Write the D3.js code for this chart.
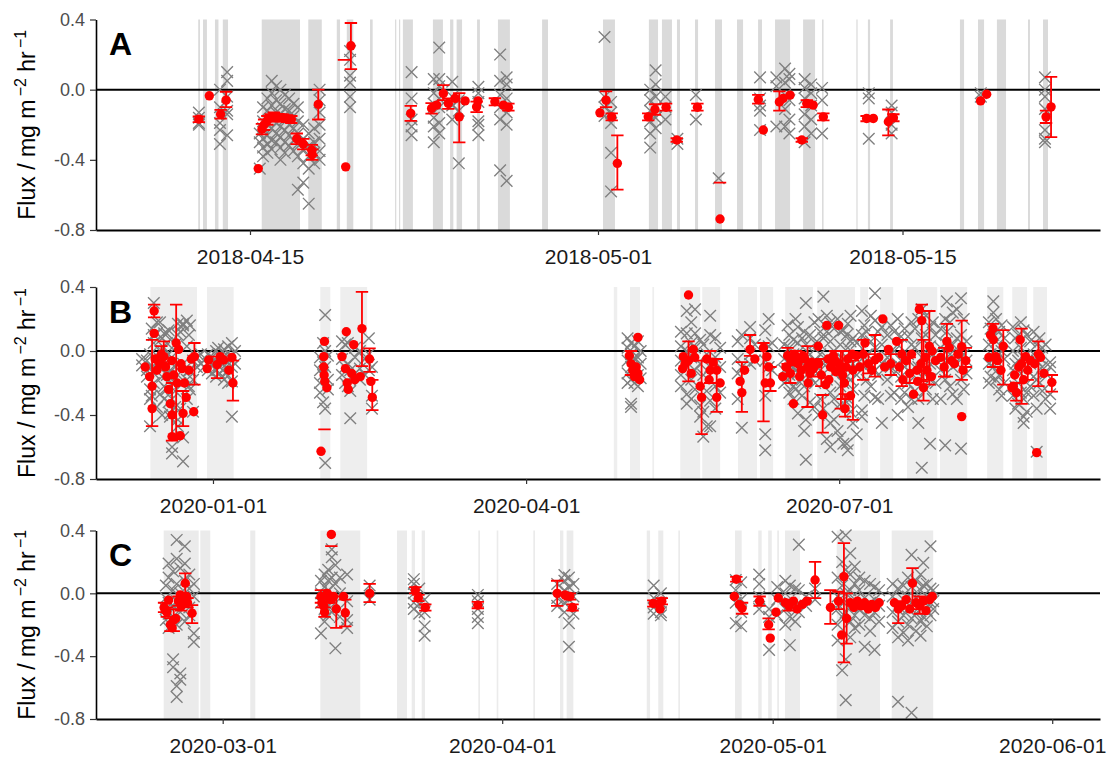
<!DOCTYPE html>
<html><head><meta charset="utf-8">
<script src="https://cdn.jsdelivr.net/npm/d3@7"></script>
<style>body{margin:0;background:#fff}svg{display:block}text{font-family:"Liberation Sans",Arial,sans-serif}</style>
</head><body><svg id="c" width="1113" height="760"></svg>
<script>
// ---------- Panel A (days since 2018-04-01) ----------
const A_ticks = ["2018-04-15","2018-05-01","2018-05-15"];
const A_bands = [[11.62,11.70],[11.84,12.02],[12.39,12.55],[12.75,12.99],[14.54,16.30],[16.68,17.30],[17.99,18.14],[18.45,18.75],[19.52,19.64],[20.67,20.72],[20.85,20.90],[21.03,21.49],[22.41,22.87],[23.20,23.35],[23.50,23.75],[24.44,24.57],[25.40,25.95],[27.43,27.70],[30.23,30.78],[32.34,32.76],[32.94,33.40],[33.63,33.77],[34.46,34.60],[35.38,35.70],[36.39,36.67],[37.36,37.54],[38.14,38.83],[39.43,39.98],[40.30,40.37],[41.88,41.93],[42.41,42.51],[43.43,43.56],[46.64,46.83],[47.47,47.75],[48.34,48.76],[49.77,49.86],[50.46,50.69]];
const A_cross = [[11.65,[-0.13,-0.19,-0.16,-0.20]],[12.62,[0.0,-0.10,-0.19,-0.23,-0.31]],[12.95,[0.10,0.05,-0.04,-0.12,-0.14,-0.26]],[14.45,[-0.45,-0.25,-0.30]],[14.6,[-0.10,-0.18,-0.22,-0.28,-0.33,-0.38]],[14.8,[-0.05,-0.12,-0.20,-0.26,-0.31,-0.36]],[15.0,[0.05,-0.02,-0.09,-0.15,-0.22,-0.29,-0.34]],[15.2,[0.02,-0.06,-0.13,-0.19,-0.25,-0.30]],[15.4,[0.0,-0.08,-0.14,-0.21,-0.27,-0.33,-0.40]],[15.6,[-0.03,-0.11,-0.17,-0.23,-0.30,-0.36]],[15.8,[-0.05,-0.12,-0.20,-0.26,-0.32]],[16.0,[-0.08,-0.15,-0.22,-0.29,-0.35]],[16.2,[-0.10,-0.18,-0.25,-0.31,-0.38,-0.57]],[16.45,[-0.20,-0.28,-0.34,-0.42,-0.53]],[16.7,[-0.25,-0.32,-0.38,-0.45,-0.65]],[16.95,[-0.22,-0.30,-0.36,-0.42]],[17.2,[0.0,-0.06,-0.13,-0.20,-0.28,-0.35,-0.40]],[18.6,[0.22,0.17,0.08,0.04,-0.04,-0.10]],[21.43,[0.10,-0.05,-0.17,-0.21,-0.26]],[22.45,[0.06,-0.02,-0.08,-0.16,-0.21,-0.30]],[22.7,[0.24,0.06,0.02,-0.05,-0.10,-0.19,-0.25]],[23.3,[0.045,-0.04,-0.09,-0.17]],[23.6,[-0.06,-0.12,-0.42]],[24.5,[0.016,-0.02,-0.07,-0.18,-0.20,-0.26]],[25.5,[0.20,0.05,-0.03,-0.10,-0.17,-0.46]],[25.8,[0.07,0.03,-0.05,-0.13,-0.20,-0.52]],[30.3,[0.30,-0.04,-0.10,-0.15]],[30.6,[-0.07,-0.13,-0.19,-0.36,-0.58]],[32.4,[0.0,-0.06,-0.12,-0.18,-0.25,-0.33]],[32.65,[0.11,0.03,-0.04,-0.10,-0.16,-0.22]],[33.1,[-0.04,-0.10,-0.17]],[33.65,[-0.28,-0.31]],[34.5,[-0.03,-0.17]],[35.55,[-0.505]],[37.45,[0.07,-0.05,-0.09,-0.12,-0.23]],[38.2,[0.07,0.02,-0.21]],[38.6,[0.12,0.04,-0.03,-0.11,-0.21]],[38.8,[0.09,0.06,-0.06,-0.17,-0.25]],[39.5,[0.06,0.01,-0.05,-0.14,-0.21,-0.30]],[39.8,[0.03,-0.02,-0.09,-0.17,-0.25]],[40.3,[0.01,-0.06,-0.25]],[42.45,[-0.02,-0.05,-0.28]],[43.5,[-0.09,-0.13,-0.20,-0.25]],[47.6,[-0.02,-0.04]],[50.55,[0.07,0.0,-0.04,-0.11,-0.23,-0.28,-0.30]]];
const A_red = [[11.65,-0.168,-0.185,-0.152],[12.13,-0.035,null,null],[12.65,-0.14,-0.165,-0.115],[12.90,-0.06,-0.10,-0.012],[14.38,-0.45,null,null],[14.55,-0.225,-0.255,-0.195],[14.65,-0.20,-0.23,-0.17],[14.8,-0.175,-0.20,-0.15],[14.95,-0.16,-0.18,-0.14],[15.1,-0.155,-0.18,-0.13],[15.3,-0.16,-0.18,-0.14],[15.5,-0.16,-0.18,-0.14],[15.7,-0.165,-0.185,-0.145],[15.9,-0.17,-0.19,-0.15],[16.15,-0.28,-0.31,-0.25],[16.45,-0.31,-0.34,-0.28],[16.84,-0.345,-0.375,-0.315],[16.86,-0.37,-0.40,-0.34],[17.14,-0.084,-0.17,0.0],[18.40,-0.44,null,null],[18.64,0.25,0.117,0.38],[18.32,null,0.17,0.17],[21.39,-0.135,-0.178,-0.092],[22.35,-0.107,-0.137,-0.077],[22.58,-0.088,null,null],[22.89,-0.022,-0.06,0.026],[23.12,-0.079,-0.11,-0.05],[23.43,-0.05,null,null],[23.62,-0.155,-0.30,-0.02],[23.89,-0.064,null,null],[24.42,-0.098,-0.128,-0.068],[24.48,-0.064,null,null],[25.26,-0.069,-0.09,-0.049],[25.65,-0.088,null,null],[25.88,-0.10,-0.12,-0.08],[30.09,-0.132,null,null],[30.37,-0.06,-0.10,-0.01],[30.63,-0.155,-0.175,-0.135],[30.89,-0.42,-0.57,-0.26],[32.31,-0.155,-0.175,-0.135],[32.62,-0.113,-0.143,-0.083],[33.13,-0.10,-0.12,-0.08],[33.62,-0.287,-0.297,-0.277],[34.57,-0.10,-0.12,-0.08],[35.61,-0.737,-0.53,-0.53],[37.37,-0.056,-0.08,-0.03],[37.60,-0.23,null,null],[38.34,-0.07,-0.12,-0.01],[38.51,-0.05,null,null],[38.83,-0.031,null,null],[39.37,-0.287,-0.297,-0.277],[39.60,-0.079,-0.10,-0.06],[39.89,-0.088,null,null],[40.36,-0.155,-0.175,-0.135],[42.35,-0.164,-0.18,-0.15],[42.66,-0.164,null,null],[43.35,-0.183,-0.26,-0.113],[43.58,-0.16,-0.18,-0.14],[47.59,-0.064,null,null],[47.87,-0.026,null,null],[50.60,-0.155,-0.19,-0.12],[50.83,-0.098,-0.27,0.073]];

// ---------- Panel B (days since 2020-01-01) ----------
const B_ticks = ["2020-01-01","2020-04-01","2020-07-01"];
const B_bands = [[-18.2,-4.65],[-1.74,6.0],[31.2,34.1],[37.0,44.8],[116.5,117.5],[121.2,124.1],[127.7,128.2],[135.8,141.6],[142.2,147.4],[152.6,158.1],[159.0,162.8],[166.3,174.4],[175.6,186.6],[188.1,190.4],[193.9,197.7],[201.7,210.5],[211.3,219.2],[225.0,229.7],[232.3,236.6],[238.4,242.4]];
const B_cross = [[-20.6,[-0.09,-0.05]],[-19.2,[-0.12,-0.16,-0.06]],[-18.3,[-0.24,-0.47,-0.02,-0.30]],[-17.8,[0.14,-0.10,-0.28]],[-17.2,[0.30,0.10,0.05,-0.14,-0.20]],[-16.3,[0.18,0.11,-0.03,-0.08,-0.35]],[-15.4,[0.18,0.00,-0.10,-0.27]],[-14.8,[0.08,-0.16,-0.40]],[-14.2,[0.11,0.02,-0.06,-0.22,-0.30]],[-13.4,[0.11,0.05,-0.15,-0.24]],[-12.9,[0.13,-0.02,-0.32]],[-12.5,[-0.39,-0.41,-0.05,-0.12]],[-11.9,[-0.60,-0.64,-0.30,-0.20]],[-11.0,[0.04,-0.10,-0.25,-0.35]],[-10.2,[0.17,0.10,-0.43,-0.47,-0.15]],[-9.5,[0.12,-0.20,-0.36]],[-8.7,[0.17,0.16,-0.69,-0.54,-0.08]],[-7.6,[0.19,0.03,-0.18,-0.30]],[-7.0,[0.10,-0.12,-0.22]],[-6.7,[0.16,-0.24,-0.12]],[-5.8,[-0.18,-0.06,-0.38]],[-4.7,[-0.10,-0.04]],[-3.5,[-0.02,-0.08]],[-2.6,[-0.06,-0.10]],[-1.5,[-0.02,-0.12]],[-0.3,[-0.04,-0.08,-0.14]],[0.9,[0.00,-0.06,-0.12,-0.16]],[1.5,[0.02,-0.09]],[2.0,[-0.02,-0.10,-0.14]],[3.2,[0.01,-0.05,-0.18]],[3.8,[-0.02,-0.10,-0.14]],[4.4,[0.03,-0.07,-0.12,-0.20]],[5.5,[0.05,-0.03,-0.19,-0.41,-0.10]],[6.4,[0.00,-0.08]],
[31.1,[-0.04,-0.12,-0.20,-0.26]],[32.0,[0.05,-0.07,-0.15,-0.32]],[32.6,[0.225,0.00,-0.10,-0.36,-0.70]],[33.4,[-0.03,-0.18,-0.24]],[37.5,[0.06,-0.05,-0.15]],[38.4,[0.04,-0.10,-0.20]],[39.2,[0.05,-0.08,-0.22]],[39.9,[-0.42,-0.25,-0.12]],[41.3,[0.02,-0.04,-0.14]],[42.7,[0.00,-0.11,-0.18]],[44.2,[-0.05,-0.15]],[45.3,[0.08,-0.02,-0.12]],[46.2,[-0.36,-0.28,-0.10]],
[120.5,[0.08,0.02,-0.06,-0.14,-0.20]],[121.5,[0.05,-0.02,-0.10,-0.18,-0.33,-0.35]],[122.5,[0.03,-0.05,-0.12,-0.20]],[123.5,[0.06,-0.04,-0.15,-0.22]],[124.3,[0.00,-0.08,-0.17]],
[136.0,[0.12,0.03,-0.06,-0.15,-0.22]],[137.7,[0.25,0.11,0.00,-0.10,-0.27,-0.33]],[139.0,[0.18,0.05,-0.04,-0.18,-0.30]],[140.1,[0.26,0.11,0.02,-0.12,-0.24]],[141.6,[0.07,-0.08,-0.34,-0.41]],[142.5,[0.04,-0.15,-0.535,-0.38]],[143.5,[-0.02,-0.25,-0.47]],[144.5,[0.22,0.10,-0.10,-0.31,-0.47]],[146.0,[0.08,-0.04,-0.22,-0.36]],[147.4,[0.02,-0.10,-0.26]],
[152.5,[0.06,-0.05,-0.14,-0.30]],[153.7,[0.10,-0.10,-0.48]],[156.1,[0.15,0.08,-0.02,-0.08]],[157.5,[0.04,-0.06]],[160.5,[0.13,-0.06,-0.52,-0.62,-0.28]],[161.5,[0.20,0.03,-0.10]],[162.5,[0.05,-0.12]],
[166.0,[0.04,-0.05,-0.12,-0.20]],[167.0,[0.16,-0.18]],[167.5,[0.10,0.02,-0.08,-0.15,-0.26]],[168.7,[0.07,-0.02,-0.10,-0.22,-0.30]],[169.3,[0.20,-0.12,-0.24]],[170.0,[0.15,0.05,-0.04,-0.14,-0.39]],[171.2,[0.08,-0.06,-0.18,-0.28]],[171.8,[0.12,-0.22,-0.50]],[172.3,[0.30,0.04,-0.10,-0.43,-0.68]],[173.5,[0.10,-0.02,-0.16,-0.32]],[174.8,[0.18,-0.12,-0.35]],[175.0,[0.05,-0.06,-0.20]],[176.0,[0.20,0.05,-0.40]],[176.5,[0.12,-0.02,-0.12,-0.30]],[177.4,[0.34,0.08,-0.08,-0.36]],[178.4,[0.22,0.12,-0.04,-0.18,-0.55]],[179.4,[0.18,0.06,-0.10,-0.26,-0.60,-0.45]],[180.5,[0.14,0.00,-0.14,-0.30,-0.43]],[181.5,[0.20,-0.06,-0.35,-0.50]],[182.3,[0.12,0.04,-0.08,-0.22,-0.54]],[183.2,[0.13,-0.05,-0.20,-0.58]],[184.2,[0.10,-0.04,-0.16,-0.32,-0.58]],[184.5,[0.17,0.02,-0.12,-0.30,-0.62]],[185.3,[0.22,0.06,-0.18,-0.38]],[186.0,[0.08,-0.08,-0.24,-0.45]],[187.1,[0.05,-0.15,-0.52]],[188.6,[0.25,0.10,-0.05,-0.37,-0.41]],[189.3,[0.16,-0.10,-0.28]],[190.0,[0.12,-0.02,-0.18]],[191.2,[0.22,0.06,-0.08,-0.22]],[192.4,[0.36,0.19,0.02,-0.12,-0.29]],[193.3,[0.12,-0.15,-0.30]],[194.4,[0.15,0.04,-0.08,-0.45]],[196.0,[0.10,-0.04,-0.18]],[197.0,[0.16,-0.10,-0.28]],[198.0,[0.12,0.00,-0.14,-0.26]],[199.0,[0.20,0.04,-0.08,-0.40]],[200.0,[0.09,-0.06,-0.16,-0.30]],[201.0,[0.14,-0.10,-0.26]],[202.0,[0.09,-0.02,-0.20,-0.35]],[203.0,[0.18,0.04,-0.14,-0.30]],[204.0,[0.14,0.02,-0.10,-0.25]],[205.0,[0.20,-0.10,-0.30,-0.45]],[206.0,[0.26,0.08,-0.04,-0.16,-0.73]],[207.2,[0.22,0.10,-0.12,-0.24]],[208.4,[0.15,0.03,-0.08,-0.18,-0.58]],[209.2,[0.18,-0.02,-0.30]],[210.0,[0.10,-0.05,-0.20]],[211.5,[0.14,0.02,-0.12,-0.30]],[212.8,[0.20,0.05,-0.18,-0.59]],[213.3,[0.31,0.12,-0.06]],[214.2,[0.18,-0.02,-0.22]],[215.0,[0.24,0.04,-0.10,-0.27]],[216.2,[0.26,0.08,-0.08,-0.30]],[217.4,[0.33,0.10,-0.04,-0.18,-0.61]],[218.2,[0.20,-0.02,-0.24]],[219.0,[0.06,-0.06,-0.14]],[225.5,[0.18,0.04,-0.08,-0.20]],[226.0,[0.14,-0.02,-0.16]],[226.8,[0.31,0.24,0.10,-0.10]],[227.6,[0.20,0.06,-0.06,-0.18]],[228.5,[0.12,-0.02,-0.15,-0.24]],[229.2,[0.16,0.00,-0.28]],[230.0,[0.08,-0.05,-0.20]],[232.5,[0.15,0.00,-0.12,-0.28]],[233.2,[0.08,-0.08,-0.22,-0.36]],[234.0,[0.10,-0.06,-0.20,-0.33]],[234.8,[0.18,0.02,-0.14,-0.26]],[235.6,[0.13,-0.04,-0.30,-0.41,-0.45]],[236.5,[0.10,-0.10,-0.26,-0.38]],[237.5,[0.06,-0.08,-0.22]],[238.5,[0.12,-0.02,-0.16,-0.28]],[239.4,[0.04,-0.06,-0.18,-0.36,-0.63]],[240.2,[0.08,-0.04,-0.20]],[241.0,[0.02,-0.10,-0.25]],[242.0,[0.04,-0.14,-0.30]],[243.3,[-0.07,-0.10,-0.27,-0.36]]];
const B_red = [[-19.7,-0.10,null,null],[-18.4,-0.16,null,null],[-17.7,-0.22,-0.47,0.07],[-17.7,-0.36,null,null],[-17.1,0.25,0.21,0.29],[-17.1,0.11,null,null],[-16.8,-0.05,null,null],[-16.3,-0.12,null,null],[-15.5,-0.08,null,null],[-15.0,-0.02,-0.07,0.03],[-14.3,-0.035,-0.08,0.06],[-13.8,-0.10,null,null],[-13.4,-0.16,null,null],[-12.9,-0.24,null,null],[-12.4,-0.33,null,null],[-12.0,-0.06,null,null],[-11.9,-0.40,-0.56,-0.20],[-11.9,-0.535,null,null],[-11.4,-0.15,null,null],[-10.7,0.05,-0.55,0.29],[-10.4,-0.20,null,null],[-10.0,0.01,null,null],[-9.5,-0.53,null,null],[-9.3,-0.08,null,null],[-9.0,-0.11,null,null],[-8.7,-0.39,-0.47,-0.25],[-8.3,-0.20,null,null],[-7.8,-0.29,null,null],[-7.0,-0.12,null,null],[-6.3,-0.05,null,null],[-5.6,-0.38,null,null],[-5.4,-0.035,-0.21,0.05],[-1.7,-0.11,null,null],[-1.25,-0.056,null,null],[1.2,-0.085,-0.17,-0.035],[2.1,-0.035,null,null],[3.1,-0.056,null,null],[4.6,-0.12,null,null],[5.5,-0.04,null,null],[5.8,-0.20,-0.31,-0.06],
[31.4,-0.627,null,null],[32.2,-0.035,null,null],[32.2,-0.10,null,null],[32.3,-0.15,null,null],[32.4,0.06,null,null],[32.4,null,-0.49,-0.49],[32.5,-0.19,null,null],[33.1,-0.23,null,null],[37.5,-0.035,null,null],[38.5,-0.11,null,null],[38.75,0.12,null,null],[39.0,-0.20,null,null],[39.3,-0.24,null,null],[40.3,-0.14,null,null],[40.9,0.04,null,null],[41.2,-0.18,null,null],[42.8,-0.16,null,null],[43.3,0.14,-0.095,0.37],[45.5,-0.05,-0.13,0.017],[45.9,-0.19,null,null],[46.3,-0.29,-0.37,-0.18],
[121.0,-0.03,null,null],[121.5,-0.08,-0.15,0.0],[122.0,-0.12,null,null],[122.5,-0.16,null,null],[123.0,-0.10,null,null],[123.5,0.085,null,null],[123.5,-0.14,null,null],[124.0,-0.18,null,null],
[136.5,-0.11,null,null],[136.7,-0.035,null,null],[137.2,-0.08,null,null],[138.2,0.35,null,null],[138.2,-0.06,-0.19,0.06],[139.0,-0.14,null,null],[139.6,0.01,null,null],[140.0,-0.04,null,null],[141.6,-0.22,null,null],[142.0,-0.29,-0.52,-0.06],[143.5,-0.05,null,null],[144.2,-0.18,null,null],[144.5,-0.12,-0.20,0.0],[145.3,-0.07,null,null],[146.4,-0.12,null,null],[146.4,-0.29,-0.38,-0.05],[147.4,-0.20,null,null],
[153.2,-0.19,null,null],[153.7,-0.26,-0.38,-0.07],[154.5,-0.12,null,null],[156.1,0.01,-0.03,0.10],[157.5,-0.05,null,null],[160.0,0.02,-0.44,0.05],[160.5,-0.20,null,null],[161.0,-0.035,null,null],[161.5,-0.10,null,null],[162.0,-0.20,-0.25,-0.10],
[165.6,-0.16,null,null],[166.5,-0.10,null,null],[167.0,-0.03,-0.08,0.02],[167.8,-0.14,-0.20,-0.08],[168.0,-0.06,null,null],[168.7,-0.33,null,null],[169.0,-0.02,null,null],[169.5,-0.05,-0.09,0.0],[170.0,-0.08,null,null],[170.5,-0.16,null,null],[171.0,-0.12,null,null],[171.5,-0.03,null,null],[172.0,-0.05,null,null],[172.8,-0.10,-0.35,0.03],[173.0,-0.20,null,null],[173.5,-0.14,null,null],[174.0,-0.07,null,null],[174.5,-0.11,-0.16,-0.06],[175.9,0.03,null,null],[176.0,-0.08,null,null],[176.8,-0.15,-0.22,-0.05],[177.2,-0.40,-0.51,-0.275],[178.1,-0.21,null,null],[178.4,0.16,null,null],[178.8,-0.05,null,null],[179.0,-0.18,null,null],[179.5,-0.10,null,null],[180.3,-0.03,null,null],[180.8,-0.06,-0.12,0.0],[181.0,-0.13,null,null],[181.8,0.16,null,null],[182.0,-0.08,null,null],[182.5,-0.10,-0.36,0.0],[183.0,-0.15,-0.30,0.0],[183.5,-0.20,null,null],[183.7,-0.36,-0.41,-0.27],[184.0,-0.10,null,null],[184.5,-0.05,null,null],[185.3,-0.28,null,null],[185.8,-0.02,null,null],[186.0,-0.12,-0.43,-0.06],[187.0,-0.03,null,null],[188.0,-0.10,null,null],[189.0,-0.02,-0.18,0.07],[189.5,0.05,null,null],[190.5,-0.08,-0.14,-0.02],[191.5,-0.12,null,null],[192.4,-0.056,-0.16,0.10],[193.5,-0.04,null,null],[194.7,0.20,null,null],[195.2,-0.10,null,null],[196.3,0.01,null,null],[197.0,-0.08,-0.15,-0.02],[198.7,0.06,null,null],[199.5,-0.10,null,null],[200.2,-0.02,-0.22,0.07],[200.5,-0.18,null,null],[201.5,-0.06,null,null],[202.5,-0.14,-0.20,-0.04],[203.0,-0.02,null,null],[203.6,-0.27,null,null],[204.6,-0.12,null,null],[204.8,-0.19,null,null],[205.3,0.26,null,null],[205.8,-0.08,null,null],[206.0,0.19,-0.19,0.29],[206.5,-0.23,-0.31,0.07],[207.0,-0.04,null,null],[207.5,-0.12,-0.18,-0.02],[208.2,0.03,-0.21,0.25],[208.8,-0.16,null,null],[209.0,0.0,null,null],[210.0,-0.06,null,null],[211.5,-0.04,null,null],[212.5,-0.10,-0.16,0.02],[213.3,0.06,-0.16,0.17],[214.0,0.02,null,null],[214.7,-0.06,null,null],[215.5,-0.08,null,null],[216.5,-0.02,null,null],[217.6,0.027,-0.18,0.19],[217.6,-0.41,null,null],[218.0,-0.12,null,null],[218.8,-0.06,-0.10,0.02],[225.5,-0.04,null,null],[226.0,0.10,null,null],[226.7,0.14,-0.10,0.17],[226.8,0.07,null,null],[227.5,-0.035,null,null],[228.0,-0.06,null,null],[229.0,-0.12,null,null],[229.7,0.03,-0.21,0.13],[232.2,-0.23,null,null],[232.6,-0.22,null,null],[233.0,-0.15,null,null],[233.5,-0.26,-0.31,-0.20],[234.2,-0.10,null,null],[234.6,0.07,null,null],[235.0,-0.08,-0.33,0.14],[235.6,-0.18,null,null],[236.2,-0.035,null,null],[236.8,-0.12,-0.18,-0.04],[237.5,-0.06,null,null],[238.8,-0.08,null,null],[239.4,-0.635,null,null],[239.9,-0.02,-0.22,0.06],[240.5,-0.04,null,null],[241.5,-0.14,null,null],[243.8,-0.196,-0.254,-0.15]];

// ---------- Panel C (days since 2020-03-01) ----------
const C_ticks = ["2020-03-01","2020-04-01","2020-05-01","2020-06-01"];
const C_bands = [[-6.54,-2.66],[-2.48,-1.38],[3.06,3.62],[10.83,12.68],[12.68,15.26],[19.33,20.44],[20.96,21.33],[22.07,22.44],[28.35,28.54],[30.39,30.57],[34.45,34.64],[37.41,37.78],[38.15,38.89],[47.03,47.4],[48.31,48.87],[50.53,50.72],[56.82,57.56],[59.4,59.78],[60.5,60.9],[61.5,61.7],[62.37,64.03],[68.1,72.9],[74.2,78.8]];
const C_cross = [[-6.3,[0.05,-0.03,-0.10,-0.17]],[-6.0,[0.19,0.10,-0.06,-0.13,-0.22]],[-5.5,[0.14,0.02,-0.08,-0.15,-0.42,-0.47]],[-5.1,[0.34,0.22,0.06,-0.05,-0.20,-0.59,-0.66]],[-4.7,[0.16,0.00,-0.12,-0.51,-0.55]],[-4.2,[0.30,0.19,0.08,-0.04,-0.18]],[-3.7,[0.12,0.03,-0.09,-0.14]],[-3.2,[0.06,-0.02,-0.255,-0.31]],
[10.9,[0.08,0.00,-0.06,-0.255]],[11.3,[0.12,0.04,-0.04,-0.10,-0.18]],[11.7,[0.15,0.08,0.02,-0.08,-0.14]],[12.1,[0.28,0.23,0.10,-0.02,-0.12]],[12.5,[0.18,0.06,-0.06,-0.35]],[13.0,[0.10,0.00,-0.15]],[13.8,[0.12,-0.05,-0.17,-0.22]],[16.3,[0.05,-0.04]],
[21.2,[0.09,0.06,0.00,-0.06,-0.10]],[21.8,[0.03,-0.07,-0.13]],[22.4,[-0.04,-0.12,-0.21,-0.27]],[28.3,[-0.01,-0.05,-0.10,-0.15,-0.19]],
[37.1,[0.06,-0.03,-0.08]],[37.9,[0.117,0.08,0.02,-0.06,-0.12]],[38.4,[0.10,0.04,-0.04,-0.19,-0.34]],[38.9,[0.06,-0.02,-0.13]],[47.8,[0.05,-0.03,-0.09,-0.13]],[48.6,[0.00,-0.06,-0.14,-0.12]],
[56.9,[0.085,0.02,-0.06,-0.19]],[57.5,[0.07,-0.04,-0.12,-0.21]],[59.5,[0.12,0.06,-0.02,-0.10]],[60.6,[-0.10,-0.15,-0.36]],[61.5,[0.04,-0.04,-0.14]],[62.4,[0.08,0.00,-0.10,-0.20]],[62.9,[0.05,-0.06,-0.15,-0.33]],[63.5,[0.03,-0.08,-0.18]],[63.9,[0.31,0.02,-0.12]],[64.7,[-0.02,-0.08]],[65.7,[0.03,-0.04]],
[68.2,[0.36,0.10,-0.02,-0.10,-0.20,-0.30]],[68.7,[0.20,0.05,-0.05,-0.15,-0.49]],[69.1,[0.37,0.15,0.00,-0.12,-0.42,-0.68]],[69.6,[0.255,0.12,0.02,-0.08,-0.18,-0.28]],[70.1,[0.17,0.06,-0.04,-0.14,-0.22]],[70.6,[0.10,0.02,-0.10,-0.20]],[71.2,[0.08,-0.03,-0.14,-0.34]],[71.8,[0.06,-0.06,-0.16,-0.24]],[72.3,[0.04,-0.04,-0.12,-0.36]],[72.8,[0.02,-0.08,-0.18]],
[74.3,[0.06,-0.02,-0.12,-0.22]],[74.9,[0.03,-0.08,-0.18,-0.28,-0.69]],[75.5,[0.05,-0.04,-0.14,-0.25]],[76.0,[0.10,-0.02,-0.10,-0.20,-0.30]],[76.4,[0.245,0.04,-0.06,-0.16,-0.76]],[76.9,[0.08,-0.03,-0.13,-0.24]],[77.4,[0.12,0.02,-0.08,-0.18,-0.27]],[77.7,[0.195,0.05,-0.05,-0.15]],[78.1,[0.06,-0.02,-0.11,-0.21]],[78.5,[0.30,0.03,-0.06,-0.14]],[78.8,[0.02,-0.05,-0.10]]];
const C_red = [[-6.5,-0.09,-0.12,-0.06],[-6.37,-0.106,null,null],[-6.2,-0.12,-0.15,-0.09],[-6.0,-0.043,null,null],[-5.8,-0.20,-0.24,-0.16],[-5.6,-0.22,null,null],[-5.43,-0.17,-0.24,-0.10],[-5.2,-0.16,null,null],[-4.9,-0.05,-0.08,-0.02],[-4.7,-0.01,null,null],[-4.6,-0.08,-0.11,-0.05],[-4.4,-0.03,null,null],[-4.15,0.064,-0.03,0.127],[-4.0,-0.02,null,null],[-3.9,-0.06,-0.09,-0.03],[-3.4,-0.127,-0.19,-0.075],
[10.9,-0.02,-0.06,0.02],[11.0,-0.06,-0.09,-0.03],[11.2,-0.08,null,null],[11.3,-0.12,-0.15,-0.09],[11.6,0.0,null,null],[11.8,-0.03,-0.06,0.0],[12.0,-0.04,null,null],[12.05,0.375,0.30,0.30],[12.3,-0.02,null,null],[12.6,-0.10,-0.22,-0.02],[13.4,-0.02,null,null],[13.6,-0.124,-0.21,-0.04],[16.3,0.0,-0.056,0.06],
[21.36,0.02,0.0,0.04],[21.7,-0.03,-0.05,-0.01],[22.47,-0.09,-0.11,-0.07],[28.3,-0.075,-0.095,-0.055],[37.1,0.0,-0.08,0.08],[37.97,-0.01,null,null],[38.5,-0.02,-0.04,0.0],[38.8,-0.09,-0.11,-0.07],[47.76,-0.065,-0.085,-0.045],[48.5,-0.10,null,null],[48.7,-0.05,-0.07,-0.03],
[56.75,-0.02,null,null],[56.97,0.09,0.075,0.105],[57.3,-0.07,null,null],[57.6,-0.095,-0.13,-0.06],[59.55,-0.05,-0.08,-0.02],[60.55,-0.20,-0.23,-0.16],[60.73,-0.285,null,null],[61.37,-0.12,null,null],[61.62,-0.03,null,null],[62.4,-0.06,null,null],[62.8,-0.08,-0.11,-0.04],[63.3,-0.05,null,null],[63.7,-0.10,null,null],[64.3,-0.07,null,null],[64.8,-0.05,null,null],[65.7,0.085,-0.03,0.20],[67.4,-0.09,-0.195,0.02],
[68.3,-0.05,-0.10,0.01],[68.65,-0.265,null,null],[68.9,0.106,-0.44,0.32],[69.2,-0.16,-0.32,0.0],[69.6,-0.06,null,null],[70.0,-0.09,null,null],[70.4,-0.05,null,null],[70.8,-0.08,null,null],[71.2,-0.06,null,null],[71.6,-0.10,null,null],[72.0,-0.07,null,null],[72.4,-0.09,null,null],[72.8,-0.06,null,null],
[74.5,-0.06,null,null],[74.93,-0.10,-0.19,-0.05],[75.3,-0.08,null,null],[75.8,-0.04,null,null],[76.2,-0.10,null,null],[76.5,0.064,-0.10,0.16],[76.9,-0.06,null,null],[77.3,-0.08,-0.13,-0.02],[77.7,-0.05,null,null],[78.0,-0.11,null,null],[78.4,-0.04,null,null],[78.7,-0.02,null,null]];

const yTicks = [-0.8,-0.4,0.0,0.4];

const panels = [
  {label:"A", base:"2018-04-01", dom:[6.92,53.08], top:19.5, bottom:230, bands:A_bands, cross:A_cross, red:A_red, ticks:A_ticks, bandFill:"#dadada"},
  {label:"B", base:"2020-01-01", dom:[-34.0,257.8], top:287, bottom:479, bands:B_bands, cross:B_cross, red:B_red, ticks:B_ticks, bandFill:"#eeeeee"},
  {label:"C", base:"2020-03-01", dom:[-14.05,97.3], top:530.5, bottom:719, bands:C_bands, cross:C_cross, red:C_red, ticks:C_ticks, bandFill:"#ebebeb"}
];

const svg = d3.select("#c");
const DAY = 864e5;
const L = 96, R = 1100;

panels.forEach(p => {
  const base = Date.parse(p.base + "T00:00:00Z");
  const t = d => new Date(base + d * DAY);
  const x = d3.scaleUtc().domain([t(p.dom[0]), t(p.dom[1])]).range([L, R]);
  const y = d3.scaleLinear().domain([-0.8, 0.4]).range([p.bottom, p.top]);
  const g = svg.append("g");

  g.selectAll("rect.band").data(p.bands).join("rect").attr("class","band")
    .attr("x", d => x(t(d[0])))
    .attr("width", d => Math.max(1.2, x(t(d[1])) - x(t(d[0]))))
    .attr("y", p.top).attr("height", p.bottom - p.top)
    .attr("fill", p.bandFill);

  g.append("line").attr("x1", L).attr("x2", R).attr("y1", y(0)).attr("y2", y(0))
    .attr("stroke", "#000").attr("stroke-width", 2);

  const pts = p.cross.flatMap(([d, vs]) => vs.map(v => [d, v]));
  const s = 5.8;
  g.selectAll("path.cross").data(pts).join("path").attr("class","cross")
    .attr("d", d => { const cx = x(t(d[0])), cy = y(d[1]);
      return `M${cx-s},${cy-s}L${cx+s},${cy+s}M${cx-s},${cy+s}L${cx+s},${cy-s}`; })
    .attr("stroke", "#7f7f7f").attr("stroke-width", 1.35).attr("fill", "none");

  const eb = p.red.filter(d => d[2] !== null);
  const cw = 6.2;
  g.selectAll("path.eb").data(eb).join("path").attr("class","eb")
    .attr("d", d => { const cx = x(t(d[0])), y1 = y(d[2]), y2 = y(d[3]);
      return `M${cx},${y1}L${cx},${y2}M${cx-cw},${y1}L${cx+cw},${y1}M${cx-cw},${y2}L${cx+cw},${y2}`; })
    .attr("stroke", "#ff0000").attr("stroke-width", 1.8).attr("fill", "none");

  g.selectAll("circle.pt").data(p.red.filter(d => d[1] !== null)).join("circle").attr("class","pt")
    .attr("cx", d => x(t(d[0]))).attr("cy", d => y(d[1])).attr("r", 4.7)
    .attr("fill", "#ff0000");

  // y axis
  const ya = g.append("g").attr("transform", `translate(${L},0)`)
    .call(d3.axisLeft(y).tickValues(yTicks).tickFormat(v => v.toFixed(1)).tickSize(6).tickPadding(5).tickSizeOuter(0));
  ya.select(".domain").attr("stroke", "#000").attr("stroke-width", 1.6);
  ya.selectAll(".tick line").attr("stroke", "#333").attr("stroke-width", 1.2);
  ya.selectAll(".tick text").attr("fill", "#4d4d4d").attr("font-size", 18).attr("font-family", "Liberation Sans, Arial, sans-serif");

  // x axis
  const xa = g.append("g").attr("transform", `translate(0,${p.bottom})`)
    .call(d3.axisBottom(x).tickValues(p.ticks.map(s => new Date(Date.parse(s + "T00:00:00Z")))).tickFormat(d3.utcFormat("%Y-%m-%d")).tickSize(5).tickPadding(14).tickSizeOuter(0));
  xa.select(".domain").attr("stroke", "#000").attr("stroke-width", 1.8);
  xa.selectAll(".tick line").attr("stroke", "#333").attr("stroke-width", 1.2);
  xa.selectAll(".tick text").attr("fill", "#1a1a1a").attr("font-size", 21).attr("font-family", "Liberation Sans, Arial, sans-serif");

  // panel label
  svg.append("text").attr("x", 109).attr("y", p.top + 35.5).attr("font-size", 32).attr("font-weight", "bold").attr("fill", "#000").text(p.label);

  // y title
  const tt = svg.append("text").attr("transform", `translate(35,${(p.top + p.bottom) / 2}) rotate(-90)`)
    .attr("text-anchor", "middle").attr("font-size", 23).attr("fill", "#000");
  tt.append("tspan").text("Flux / mg m");
  tt.append("tspan").attr("dy", -9).attr("font-size", 16).text("\u2009\u22122");
  tt.append("tspan").attr("dy", 9).text(" hr");
  tt.append("tspan").attr("dy", -9).attr("font-size", 16).text("\u2009\u22121");
});
</script></body></html>
